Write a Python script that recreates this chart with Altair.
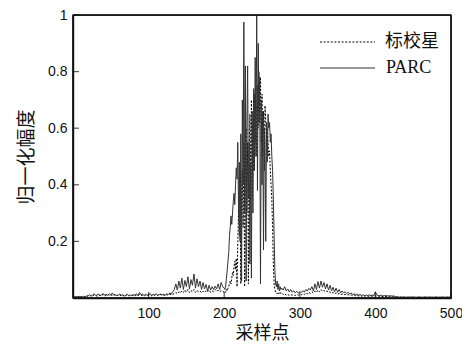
import altair as alt
import pandas as pd

# ---- data (sample index, normalized amplitude) ----
x_left = list(range(0, 200, 2))
x_mid = list(range(200, 276))
x_right = list(range(276, 501, 2))

parc_left = [
    0.005, 0.004, 0.005, 0.004, 0.006, 0.005, 0.004, 0.006, 0.005, 0.007,
    0.008, 0.012, 0.006, 0.010, 0.015, 0.009, 0.011, 0.014, 0.008, 0.012,
    0.016, 0.010, 0.013, 0.009, 0.015, 0.011, 0.018, 0.010, 0.012, 0.008,
    0.011, 0.014, 0.009, 0.012, 0.007, 0.010, 0.013, 0.008, 0.011, 0.009,
    0.012, 0.010, 0.015, 0.008, 0.020, 0.011, 0.014, 0.009, 0.013, 0.010,
    0.012, 0.016, 0.009, 0.013, 0.011, 0.015, 0.010, 0.012, 0.014, 0.011,
    0.013, 0.010, 0.015, 0.012, 0.018, 0.014, 0.022, 0.030, 0.050, 0.028,
    0.060, 0.035, 0.070, 0.030, 0.062, 0.040, 0.075, 0.032, 0.065, 0.045,
    0.085, 0.035, 0.068, 0.040, 0.060, 0.030, 0.055, 0.032, 0.048, 0.025,
    0.045, 0.028, 0.040, 0.030, 0.042, 0.032, 0.050, 0.030, 0.055, 0.040,
]
parc_mid = [
    0.035, 0.03, 0.045, 0.07, 0.10, 0.13, 0.16, 0.22, 0.25, 0.29,
    0.26, 0.30, 0.34, 0.37, 0.33, 0.40, 0.46, 0.42, 0.55, 0.30,
    0.48, 0.20, 0.58, 0.06, 0.70, 0.40, 0.975, 0.30, 0.82, 0.06,
    0.62, 0.82, 0.35, 0.55, 0.12, 0.48, 0.07, 0.66, 0.30, 0.74,
    0.45, 0.85, 0.50, 1.0, 0.38, 0.90, 0.62, 0.78, 0.05, 0.70,
    0.40, 0.66, 0.17, 0.60, 0.55, 0.20, 0.62, 0.48, 0.65, 0.60,
    0.62, 0.55, 0.58, 0.50, 0.45, 0.35, 0.22, 0.10, 0.05, 0.04,
    0.06, 0.03, 0.05, 0.025, 0.04, 0.03,
]
parc_right = [
    0.035, 0.028, 0.040, 0.025, 0.032, 0.022, 0.030, 0.020, 0.026, 0.018,
    0.024, 0.017, 0.022, 0.020, 0.026, 0.021, 0.030, 0.025, 0.034, 0.028,
    0.040, 0.025, 0.050, 0.030, 0.058, 0.035, 0.060, 0.038, 0.055, 0.032,
    0.050, 0.028, 0.045, 0.025, 0.038, 0.022, 0.035, 0.020, 0.030, 0.018,
    0.025, 0.018, 0.022, 0.016, 0.020, 0.014, 0.018, 0.012, 0.015, 0.011,
    0.013, 0.010, 0.012, 0.009, 0.011, 0.008, 0.010, 0.009, 0.011, 0.008,
    0.010, 0.009, 0.022, 0.010, 0.009, 0.008, 0.010, 0.007, 0.009, 0.008,
    0.008, 0.007, 0.009, 0.006, 0.008, 0.005, 0.004, 0.004, 0.003, 0.004,
    0.003, 0.004, 0.003, 0.003, 0.004, 0.003, 0.003, 0.004, 0.003, 0.003,
    0.003, 0.004, 0.003, 0.003, 0.003, 0.004, 0.003, 0.003, 0.004, 0.003,
    0.003, 0.003, 0.004, 0.003, 0.003, 0.003, 0.004, 0.003, 0.003, 0.003,
    0.004, 0.003, 0.003,
]

star_left = [
    0.002, 0.003, 0.002, 0.003, 0.002, 0.004, 0.003, 0.002, 0.005, 0.004,
    0.008, 0.006, 0.010, 0.007, 0.012, 0.009, 0.006, 0.011, 0.008, 0.010,
    0.012, 0.007, 0.010, 0.014, 0.008, 0.011, 0.009, 0.013, 0.007, 0.010,
    0.008, 0.011, 0.007, 0.010, 0.006, 0.009, 0.012, 0.007, 0.010, 0.008,
    0.009, 0.007, 0.011, 0.008, 0.012, 0.009, 0.010, 0.007, 0.011, 0.008,
    0.010, 0.012, 0.008, 0.011, 0.009, 0.013, 0.008, 0.010, 0.012, 0.009,
    0.011, 0.008, 0.012, 0.010, 0.014, 0.011, 0.013, 0.016, 0.020, 0.015,
    0.022, 0.018, 0.025, 0.020, 0.028, 0.021, 0.030, 0.019, 0.026, 0.022,
    0.030, 0.020, 0.027, 0.022, 0.025, 0.018, 0.024, 0.020, 0.026, 0.022,
    0.028, 0.020, 0.025, 0.022, 0.030, 0.024, 0.028, 0.022, 0.026, 0.024,
]
star_mid = [
    0.02, 0.025, 0.02, 0.03, 0.025, 0.035, 0.04, 0.05, 0.06, 0.05,
    0.07, 0.09, 0.08, 0.11, 0.13, 0.10, 0.14, 0.04, 0.20, 0.30,
    0.22, 0.38, 0.05, 0.35, 0.45, 0.25, 0.55, 0.04, 0.42, 0.60,
    0.30, 0.55, 0.05, 0.50, 0.65, 0.40, 0.70, 0.35, 0.62, 0.45,
    0.72, 0.55, 0.68, 0.50, 0.75, 0.60, 0.80, 0.62, 0.78, 0.55,
    0.72, 0.50, 0.66, 0.45, 0.68, 0.62, 0.55, 0.60, 0.55, 0.50,
    0.52, 0.45, 0.40, 0.35, 0.25, 0.12, 0.05, 0.03, 0.02, 0.02,
    0.015, 0.02, 0.015, 0.02, 0.015, 0.02,
]
star_right = [
    0.018, 0.012, 0.015, 0.010, 0.013, 0.009, 0.012, 0.010, 0.011, 0.009,
    0.012, 0.010, 0.013, 0.011, 0.015, 0.012, 0.018, 0.014, 0.020, 0.016,
    0.022, 0.018, 0.025, 0.020, 0.028, 0.022, 0.030, 0.024, 0.027, 0.022,
    0.025, 0.020, 0.022, 0.017, 0.020, 0.015, 0.018, 0.013, 0.016, 0.012,
    0.014, 0.011, 0.013, 0.010, 0.012, 0.009, 0.011, 0.008, 0.010, 0.008,
    0.009, 0.007, 0.009, 0.006, 0.008, 0.007, 0.008, 0.006, 0.007, 0.006,
    0.007, 0.006, 0.008, 0.006, 0.007, 0.005, 0.006, 0.005, 0.006, 0.005,
    0.005, 0.004, 0.005, 0.004, 0.004, 0.003, 0.003, 0.003, 0.002, 0.003,
    0.002, 0.002, 0.003, 0.002, 0.002, 0.002, 0.003, 0.002, 0.002, 0.002,
    0.002, 0.003, 0.002, 0.002, 0.002, 0.002, 0.003, 0.002, 0.002, 0.002,
    0.002, 0.002, 0.002, 0.003, 0.002, 0.002, 0.002, 0.002, 0.003, 0.002,
    0.002, 0.002, 0.002,
]

legend_labels = ["标校星", "PARC"]
x_ticks = [100, 200, 300, 400, 500]
y_ticks = [0.2, 0.4, 0.6, 0.8, 1.0]
x_title = "采样点"
y_title = "归一化幅度"

xs = x_left + x_mid + x_right
df_star = pd.DataFrame({"x": xs, "y": star_left + star_mid + star_right})
df_parc = pd.DataFrame({"x": xs, "y": parc_left + parc_mid + parc_right})

W, H = 378, 283
NUM_FONT = "Liberation Sans"
CJK_FONT = "Noto Sans CJK SC"
FRAME = "#111"

xscale = alt.Scale(domain=[0, 500], nice=False, zero=False)
yscale = alt.Scale(domain=[0, 1], nice=False)

xaxis = alt.Axis(values=x_ticks, tickSize=0, domain=True, domainColor=FRAME,
                 domainWidth=1.4, grid=False,
                 labelFlush=False, labelFont=NUM_FONT, labelFontSize=14,
                 labelColor="#111", labelPadding=8, title=x_title,
                 titleFont=CJK_FONT, titleFontSize=18,
                 titleFontWeight="normal", titleColor="#111",
                 titleBaseline="middle", titleY=35)
yaxis = alt.Axis(values=y_ticks, tickSize=0, domain=True, domainColor=FRAME,
                 domainWidth=1.4, grid=False,
                 labelFlush=False, format="~g", labelFont=NUM_FONT,
                 labelFontSize=14, labelColor="#111", labelPadding=6,
                 title=y_title, titleFont=CJK_FONT, titleFontSize=19,
                 titleFontWeight="normal", titleColor="#111",
                 titleBaseline="middle", titleX=-47, titleY=H / 2)

star_line = alt.Chart(df_star).mark_line(
    color="#000", strokeWidth=1, strokeDash=[2, 1.6]
).encode(
    x=alt.X("x:Q", scale=xscale, axis=xaxis),
    y=alt.Y("y:Q", scale=yscale, axis=yaxis),
)
parc_line = alt.Chart(df_parc).mark_line(
    color="#333", strokeWidth=1
).encode(
    x=alt.X("x:Q", scale=xscale),
    y=alt.Y("y:Q", scale=yscale),
)

# box edges drawn as rules (same construction as the legend strokes)
one = pd.DataFrame({"k": [0]})
edge_left = alt.Chart(one).mark_rule(color=FRAME, strokeWidth=1.4).encode(
    x=alt.value(0), y=alt.value(0), y2=alt.value(H))
edge_right = alt.Chart(one).mark_rule(color=FRAME, strokeWidth=1.4).encode(
    x=alt.value(W), y=alt.value(0), y2=alt.value(H))
edge_top = alt.Chart(one).mark_rule(color=FRAME, strokeWidth=1.4).encode(
    x=alt.value(0), x2=alt.value(W), y=alt.value(0))
edge_bottom = alt.Chart(one).mark_rule(color=FRAME, strokeWidth=1.4).encode(
    x=alt.value(0), x2=alt.value(W), y=alt.value(H))

# inward ticks
xt = alt.Chart(pd.DataFrame({"t": x_ticks})).mark_tick(
    color=FRAME, thickness=1.2, size=6, orient="vertical"
).encode(x=alt.X("t:Q", scale=xscale), y=alt.value(H - 3))
yt = alt.Chart(pd.DataFrame({"t": y_ticks})).mark_tick(
    color=FRAME, thickness=1.2, size=6, orient="horizontal"
).encode(y=alt.Y("t:Q", scale=yscale), x=alt.value(3))

leg_df1 = pd.DataFrame({"label": [legend_labels[0]]})
leg_df2 = pd.DataFrame({"label": [legend_labels[1]]})
leg_rule1 = alt.Chart(leg_df1).mark_rule(
    color="#000", strokeWidth=1, strokeDash=[2, 1.6]
).encode(x=alt.value(247), x2=alt.value(302), y=alt.value(27))
leg_rule2 = alt.Chart(leg_df2).mark_rule(
    color="#333", strokeWidth=1
).encode(x=alt.value(247), x2=alt.value(302), y=alt.value(53))
leg_text1 = alt.Chart(leg_df1).mark_text(
    align="left", baseline="middle", font=CJK_FONT, fontSize=18, color="#111"
).encode(x=alt.value(312), y=alt.value(27), text="label:N")
leg_text2 = alt.Chart(leg_df2).mark_text(
    align="left", baseline="middle", font="Liberation Serif", fontSize=18,
    color="#111"
).encode(x=alt.value(313), y=alt.value(53), text="label:N")

chart = alt.layer(
    star_line, parc_line, edge_left, edge_right, edge_top, edge_bottom, xt, yt,
    leg_rule1, leg_rule2, leg_text1, leg_text2
).properties(
    width=W, height=H,
    autosize=alt.AutoSizeParams(type="none"),
    padding={"left": 65, "top": 7, "right": 11, "bottom": 45},
    background="white",
).configure_view(
    stroke=FRAME, strokeWidth=1.4
)

chart.save("out.html", embed_options={"renderer": "svg", "actions": False})
